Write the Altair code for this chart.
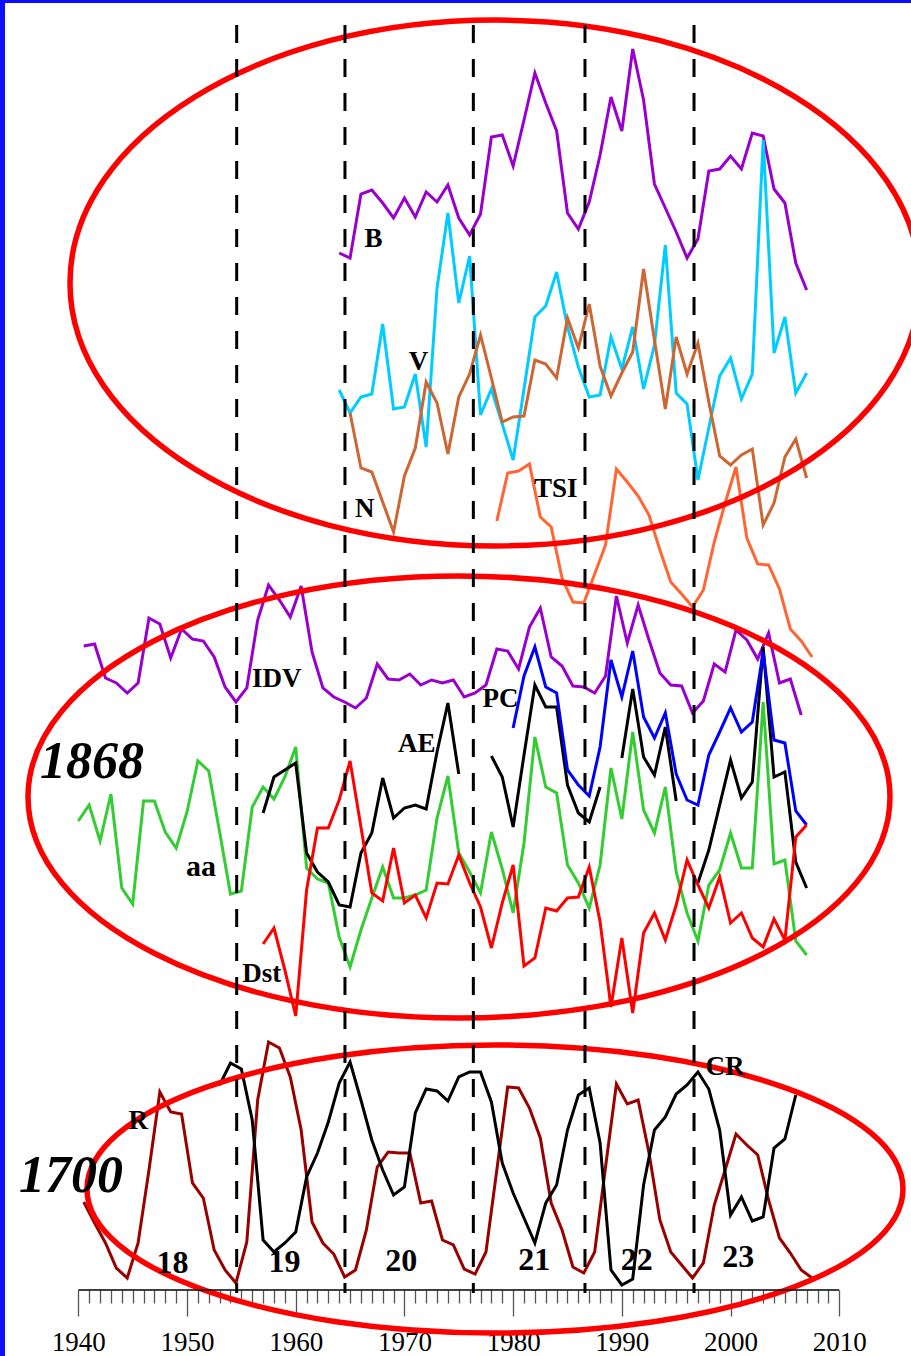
import altair as alt
import pandas as pd

# ---------------- data (vertical values are read as depth: 0 at the top, growing downward) ----------------
B_YEARS = list(range(1964, 2008))
B_VALS = [253, 258, 194, 190, 203, 218, 198, 217, 192, 202,
          185, 218, 235, 214, 137, 135, 166, 120, 73, 103,
          131, 213, 229, 202, 155, 97, 131, 49, 100, 184,
          208, 232, 258, 239, 171, 169, 156, 169, 133, 136,
          189, 203, 263, 290]

V_YEARS = list(range(1964, 2008))
V_VALS = [390, 413, 397, 394, 324, 409, 407, 374, 447, 288,
          213, 303, 256, 415, 389, 424, 460, 389, 317, 306,
          272, 327, 367, 397, 395, 337, 369, 327, 389, 345,
          245, 393, 404, 480, 428, 376, 358, 399, 374, 140,
          353, 317, 393, 373]

N_YEARS = list(range(1965, 2008))
N_VALS = [413, 468, 472, 502, 532, 476, 448, 382, 403, 454,
          397, 374, 335, 378, 422, 417, 416, 360, 364, 378,
          318, 348, 304, 366, 396, 373, 352, 269, 340, 409,
          337, 374, 343, 402, 456, 465, 455, 449, 525, 503,
          457, 439, 478]

TSI_YEARS = [y + 0.5 for y in range(1978, 2008)]
TSI_VALS = [521, 473, 471, 464, 517, 527, 578, 602, 603, 574,
            545, 469, 482, 496, 515, 550, 582, 594, 607, 590,
            542, 503, 467, 538, 564, 565, 589, 629, 641, 657]

IDV_YEARS = [y + 0.5 for y in range(1940, 2007)]
IDV_VALS = [646, 644, 678, 683, 693, 683, 618, 624, 658, 629,
            639, 641, 657, 687, 702, 688, 620, 585, 600, 617,
            586, 652, 688, 697, 702, 708, 698, 664, 679, 680,
            674, 685, 680, 683, 680, 697, 693, 685, 649, 651,
            669, 627, 608, 657, 666, 686, 687, 693, 676, 596,
            643, 605, 640, 673, 685, 686, 713, 701, 664, 672,
            630, 640, 659, 633, 683, 679, 715]

AA_YEARS = list(range(1940, 2008))
AA_VALS = [821, 805, 841, 794, 888, 904, 801, 801, 832, 848,
           812, 761, 771, 832, 894, 891, 807, 787, 799, 777,
           747, 868, 879, 883, 937, 967, 930, 898, 867, 898,
           898, 895, 890, 818, 776, 853, 872, 893, 832, 869,
           913, 843, 737, 787, 793, 865, 883, 908, 865, 768,
           819, 732, 810, 833, 787, 872, 913, 941, 885, 870,
           833, 868, 868, 702, 864, 860, 941, 955]

AE_SEGMENTS = [
    (list(range(1957, 1976)), [813, 777, 770, 763, 853, 872, 882, 905, 907, 853,
                               833, 778, 818, 808, 805, 809, 752, 703, 774]),
    (list(range(1978, 1989)), [756, 777, 827, 755, 685, 707, 707, 785, 813, 822, 787]),
    (list(range(1990, 1996)), [758, 689, 757, 775, 727, 801]),
    (list(range(1997, 2008)), [883, 850, 805, 760, 798, 782, 647, 777, 772, 862, 888]),
]

PC_YEARS = list(range(1980, 2008))
PC_VALS = [728, 676, 647, 687, 693, 770, 785, 796, 747, 660,
           697, 651, 717, 738, 713, 774, 800, 805, 755, 732,
           708, 732, 722, 652, 740, 743, 811, 825]

DST_YEARS = list(range(1957, 2008))
DST_VALS = [944, 928, 970, 1016, 890, 828, 828, 800, 761, 827,
            893, 901, 848, 903, 895, 918, 883, 884, 855, 883,
            907, 948, 903, 865, 966, 958, 908, 911, 898, 897,
            867, 922, 1007, 938, 1013, 933, 913, 940, 905, 860,
            885, 908, 877, 923, 913, 938, 947, 919, 940, 837,
            825]

R_YEARS = [y + 0.5 for y in range(1940, 2008)]
R_VALS = [1202, 1223, 1243, 1268, 1278, 1243, 1170, 1092, 1112, 1114,
          1183, 1198, 1250, 1270, 1283, 1242, 1100, 1042, 1048, 1077,
          1130, 1222, 1243, 1254, 1277, 1270, 1230, 1167, 1152, 1153,
          1153, 1203, 1201, 1240, 1245, 1269, 1274, 1252, 1170, 1087,
          1088, 1108, 1138, 1203, 1230, 1267, 1273, 1252, 1167, 1084,
          1104, 1100, 1153, 1220, 1252, 1265, 1278, 1263, 1205, 1170,
          1134, 1145, 1155, 1200, 1238, 1253, 1270, 1278]

CR_YEARS = list(range(1953, 2007))
CR_VALS = [1085, 1063, 1069, 1120, 1240, 1252, 1243, 1232, 1177, 1153,
           1122, 1083, 1062, 1100, 1140, 1170, 1195, 1187, 1113, 1089,
           1091, 1101, 1077, 1072, 1072, 1102, 1163, 1193, 1218, 1243,
           1203, 1185, 1130, 1095, 1088, 1143, 1270, 1285, 1279, 1185,
           1130, 1117, 1094, 1085, 1072, 1089, 1130, 1215, 1197, 1221,
           1217, 1148, 1139, 1095]

SOLAR_MINIMA = [1954.57, 1964.53, 1976.34, 1986.61, 1996.64]

SERIES_NAMES = ["B", "V", "N", "TSI", "IDV", "aa", "AE", "PC", "Dst", "R", "CR"]
SERIES_COLORS = ["#9900cc", "#00ccff", "#cc6633", "#ff6633", "#9900cc", "#33cc33",
                 "#000000", "#0000ff", "#ff0000", "#990000", "#000000"]

LABEL_TEXT = ["B", "V", "N", "TSI", "IDV", "aa", "Dst", "AE", "PC", "R", "CR",
              "18", "19", "20", "21", "22", "23"]
LABEL_X = [1967.16, 1971.30, 1966.35, 1983.92, 1958.25, 1951.29, 1956.87, 1971.13, 1978.84,
           1945.52, 1999.49, 1948.67, 1958.97, 1969.71, 1981.94, 1991.37, 2000.71]
LABEL_Y = [246.7, 370, 516.7, 496.7, 686.7, 875.7, 981.7, 751.7, 707.3, 1129.3, 1075,
           1272.7, 1271.7, 1270.7, 1270, 1270, 1267.3]
LABEL_SIZE = [27, 27, 27, 27, 27, 30, 27, 27, 27, 27, 27, 32, 32, 32, 32, 32, 32]

BIG_TEXT = ["1868", "1700"]
BIG_X = [1941.26, 1939.33]
BIG_Y = [778, 1192]

TICK_YEARS = list(range(1940, 2011))

# ---------------- build tables ----------------
rows = []


def add(name, years, vals, seg=None):
    for x, v in zip(years, vals):
        rows.append({"x": x, "v": v, "series": name, "seg": seg or name})


add("B", B_YEARS, B_VALS)
add("V", V_YEARS, V_VALS)
add("N", N_YEARS, N_VALS)
add("TSI", TSI_YEARS, TSI_VALS)
add("IDV", IDV_YEARS, IDV_VALS)
add("aa", AA_YEARS, AA_VALS)
for i, (yrs, vals) in enumerate(AE_SEGMENTS):
    add("AE", yrs, vals, seg=f"AE{i}")
add("PC", PC_YEARS, PC_VALS)
add("Dst", DST_YEARS, DST_VALS)
add("R", R_YEARS, R_VALS)
add("CR", CR_YEARS, CR_VALS)
lines_df = pd.DataFrame(rows)

labels_df = pd.DataFrame({"t": LABEL_TEXT, "x": LABEL_X, "y": LABEL_Y, "s": LABEL_SIZE})
big_df = pd.DataFrame({"t": BIG_TEXT, "x": BIG_X, "y": BIG_Y})
minima_df = pd.DataFrame({"x": SOLAR_MINIMA, "y": [25] * 5, "y2": [1293] * 5})

FONT = "Liberation Serif"
xs = alt.Scale(domain=[1932.797, 2016.60], nice=False, zero=False)
ys = alt.Scale(domain=[0, 1290], nice=False, zero=False, reverse=True)

X_AXIS = alt.Axis(
    values=TICK_YEARS, tickCount=200, orient="bottom", domain=False, grid=False, title=None,
    tickSize={"condition": {"test": "datum.value % 10 === 0", "value": 26}, "value": 13},
    tickColor="#555555", tickWidth=1.3,
    labelExpr="datum.value % 10 === 0 ? datum.label : ''",
    format="d", labelFont=FONT, labelFontSize=27, labelColor="black",
    labelPadding=13, labelFlush=False, labelOverlap=False,
)

lines = alt.Chart(lines_df).mark_line(strokeWidth=3, strokeJoin="miter").encode(
    x=alt.X("x:Q", scale=xs, axis=X_AXIS),
    y=alt.Y("v:Q", scale=ys, axis=None),
    color=alt.Color("series:N", scale=alt.Scale(domain=SERIES_NAMES, range=SERIES_COLORS), legend=None),
    detail="seg:N",
    order="x:Q",
)

minima = alt.Chart(minima_df).mark_rule(color="black", strokeWidth=3, strokeDash=[18, 16]).encode(
    x=alt.X("x:Q", scale=xs), y=alt.Y("y:Q", scale=ys), y2="y2:Q"
)

axis_line = alt.Chart(pd.DataFrame({"x": [1940], "x2": [2010], "y": [1290]})).mark_rule(
    color="black", strokeWidth=1.5
).encode(x=alt.X("x:Q", scale=xs), x2="x2:Q", y=alt.Y("y:Q", scale=ys))

# ellipses: (centre year, centre depth, half width px, ratio)
ELLIPSES = [(1978.33, 283, 425, 263 / 425), (1975.02, 797, 431, 221 / 431), (1978.33, 1189, 408, 144 / 408)]
ell_layers = []
for cx, cy, rx, k in ELLIPSES:
    path = f"M-1,0A1,{k:.4f},0,1,1,1,0A1,{k:.4f},0,1,1,-1,0Z"
    ell_layers.append(
        alt.Chart(pd.DataFrame({"x": [cx], "y": [cy]})).mark_point(
            shape=path, size=(2 * rx) ** 2, filled=False, stroke="#ff0000", strokeWidth=5.5, opacity=1
        ).encode(x=alt.X("x:Q", scale=xs), y=alt.Y("y:Q", scale=ys))
    )

labels = alt.Chart(labels_df).mark_text(
    font=FONT, fontWeight="bold", baseline="alphabetic", align="center", color="black"
).encode(x=alt.X("x:Q", scale=xs), y=alt.Y("y:Q", scale=ys), text="t:N", size=alt.Size("s:Q", scale=None))

big = alt.Chart(big_df).mark_text(
    font=FONT, fontWeight="bold", fontStyle="italic", fontSize=52, baseline="alphabetic", align="center",
    color="black"
).encode(x=alt.X("x:Q", scale=xs), y=alt.Y("y:Q", scale=ys), text="t:N")

border_left = alt.Chart(pd.DataFrame({"a": [0]})).mark_rule(color="#0d0dff", strokeWidth=5).encode(
    x=alt.value(2.5), y=alt.value(0), y2=alt.value(1356)
)
border_top = alt.Chart(pd.DataFrame({"a": [0]})).mark_rule(color="#0d0dff", strokeWidth=3).encode(
    x=alt.value(0), x2=alt.value(911), y=alt.value(1.5)
)

chart = alt.layer(
    lines, *ell_layers, minima, axis_line, labels, big, border_left, border_top
).properties(
    width=911, height=1290, autosize="none",
    padding={"left": 0, "top": 0, "right": 0, "bottom": 66},
    background="white",
).configure_view(strokeWidth=0)

chart.save("out.html", embed_options={"renderer": "svg", "actions": False})
